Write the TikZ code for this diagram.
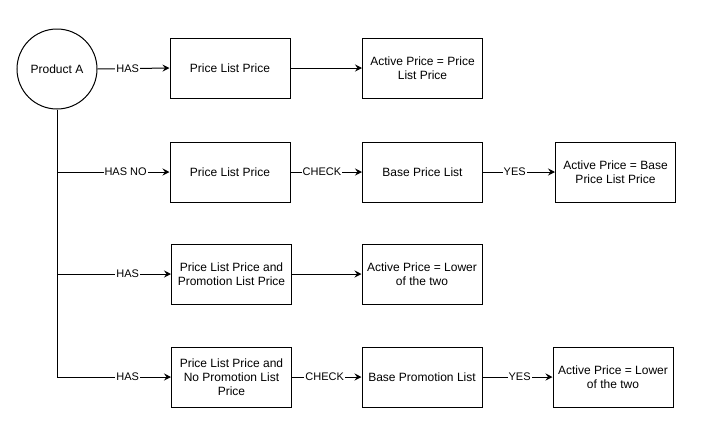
\documentclass[tikz,border=0pt]{standalone}
\usepackage{fontspec}
\setmainfont{Liberation Sans}
\usetikzlibrary{arrows.meta}
\begin{document}
\begin{tikzpicture}[x=1pt,y=1pt,
  box/.style={draw,line width=1pt,minimum width=120pt,minimum height=60pt,inner sep=0pt,align=center,font=\fontsize{12}{14}\selectfont},
  circ/.style={draw,line width=1pt,circle,minimum size=80pt,inner sep=0pt,font=\fontsize{12}{14}\selectfont},
  conn/.style={line width=1pt},
  arr/.style={conn,-{Stealth[length=7pt,width=7pt,inset=2.5pt]}},
  lbl/.style={fill=white,inner sep=1pt,font=\fontsize{11}{13}\selectfont}]
\useasboundingbox (0,0) rectangle (709,-445);
\node[circ] (prod) at (57,-69) {Product A};
\node[box] (r1a) at (230,-68) {Price List Price};
\node[box] (r1b) at (422.5,-68) {Active Price = Price\\List Price};
\node[box] (r2a) at (230,-172) {Price List Price};
\node[box] (r2b) at (422.5,-172) {Base Price List};
\node[box] (r2c) at (615.5,-172) {Active Price = Base\\Price List Price};
\node[box] (r3a) at (231.5,-274) {Price List Price and\\Promotion List Price};
\node[box] (r3b) at (422,-274) {Active Price = Lower\\of the two};
\node[box] (r4a) at (231.5,-377) {Price List Price and\\No Promotion List\\Price};
\node[box] (r4b) at (422,-377) {Base Promotion List};
\node[box] (r4c) at (613,-377) {Active Price = Lower\\of the two};
\coordinate (c2) at (57,-172);
\coordinate (c3) at (57,-274);
\coordinate (c4) at (57,-377);
\draw[arr] (prod.east) -- node[lbl,pos=0.42] {HAS} (r1a.west);
\draw[arr] (r1a.east) -- (r1b.west);
\draw[conn] (prod.south) -- (c4);
\draw[arr] (c2) -- node[lbl,pos=0.61] {HAS NO} (r2a.west);
\draw[arr] (r2a.east) -- node[lbl,pos=0.44] {CHECK} (r2b.west);
\draw[arr] (r2b.east) -- node[lbl,pos=0.44] {YES} (r2c.west);
\draw[arr] (c3) -- node[lbl,pos=0.62] {HAS} (r3a.west);
\draw[arr] (r3a.east) -- (r3b.west);
\draw[arr] (c4) -- node[lbl,pos=0.62] {HAS} (r4a.west);
\draw[arr] (r4a.east) -- node[lbl,pos=0.47] {CHECK} (r4b.west);
\draw[arr] (r4b.east) -- node[lbl,pos=0.53] {YES} (r4c.west);
\end{tikzpicture}
\end{document}
